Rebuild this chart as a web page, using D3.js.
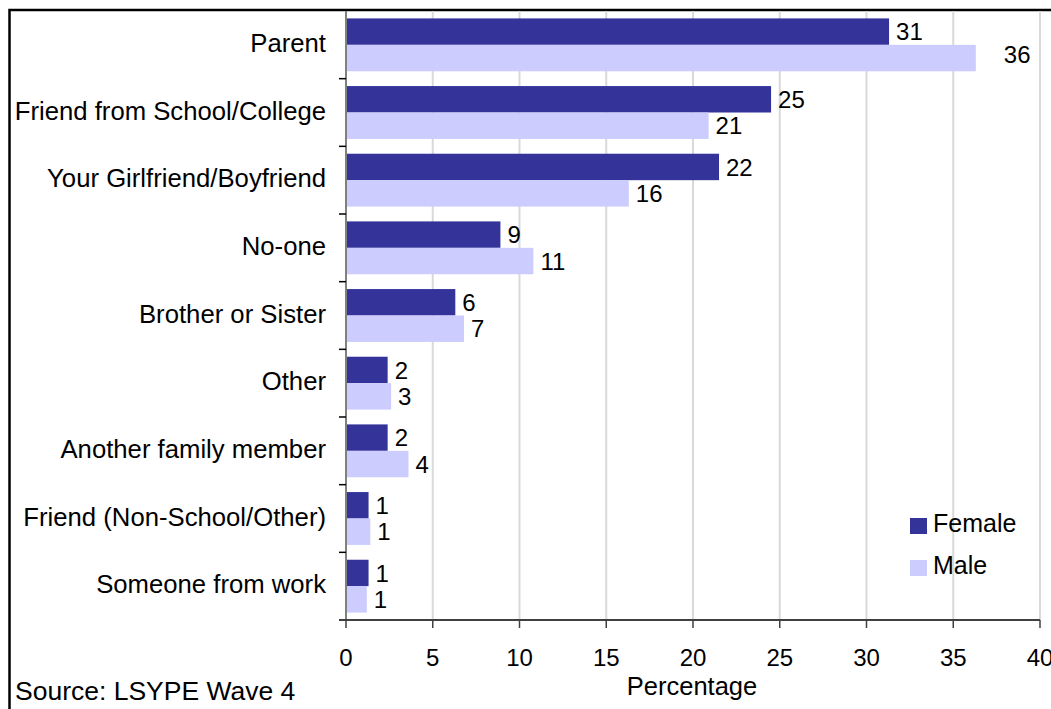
<!DOCTYPE html>
<html><head><meta charset="utf-8">
<script src="https://cdn.jsdelivr.net/npm/d3@7"></script>
<style>body{margin:0;background:#fff}svg{display:block}text{font-family:"Liberation Sans",Arial,sans-serif;fill:#000}</style>
</head><body><svg id="c" width="1051" height="709"></svg>
<script>
const categories = ["Parent","Friend from School/College","Your Girlfriend/Boyfriend","No-one","Brother or Sister","Other","Another family member","Friend (Non-School/Other)","Someone from work"];
const series = ["Female","Male"];
const female = [31.3, 24.5, 21.5, 8.9, 6.3, 2.4, 2.4, 1.3, 1.3];
const male   = [36.3, 20.9, 16.3, 10.8, 6.8, 2.6, 3.6, 1.4, 1.2];
const femaleLabels = ["31","25","22","9","6","2","2","1","1"];
const maleLabels   = ["36","21","16","11","7","3","4","1","1"];
const xTicks = [0,5,10,15,20,25,30,35,40];
const colors = {Female:"#333399", Male:"#CCCCFF"};

const svg = d3.select("#c");
const m = {left:346, right:1040, top:11, bottom:620};
const x = d3.scaleLinear().domain([0,40]).range([m.left, m.right]);
const y = d3.scaleBand().domain(categories).range([m.top, m.bottom]).padding(0);
const ys = d3.scaleBand().domain(series).range([0, y.bandwidth()]).paddingInner(0).paddingOuter(0.28);

// frame
svg.append("path").attr("d",`M9.5,709 V10 H1051`).attr("fill","none").attr("stroke","#000").attr("stroke-width",2.5);

// gridlines
svg.append("g").selectAll("line").data(xTicks.slice(1)).join("line")
  .attr("x1",d=>x(d)).attr("x2",d=>x(d)).attr("y1",m.top).attr("y2",m.bottom)
  .attr("stroke","#d9d9d9").attr("stroke-width",2);

const rows = categories.map((c,i)=>({c, vals:[{s:"Female",v:female[i],l:femaleLabels[i]},{s:"Male",v:male[i],l:maleLabels[i]}]}));
const maxV = d3.max(male.concat(female));
const g = svg.append("g").selectAll("g").data(rows).join("g").attr("transform",d=>`translate(0,${y(d.c)})`);
g.selectAll("rect").data(d=>d.vals).join("rect")
  .attr("x",x(0)).attr("y",d=>ys(d.s)).attr("width",d=>x(d.v)-x(0)).attr("height",ys.bandwidth())
  .attr("fill",d=>colors[d.s]);
g.selectAll("text").data(d=>d.vals).join("text")
  .attr("x",d=>x(d.v)+(d.v===maxV?28:7)).attr("y",d=>ys(d.s)+ys.bandwidth()/2)
  .attr("dy",d=>d.v===maxV?"0.2em":"0.36em").attr("font-size",24).text(d=>d.l);

// y axis
const ya = svg.append("g").attr("transform",`translate(${m.left},0)`);
ya.append("line").attr("x1",0).attr("x2",0).attr("y1",m.top).attr("y2",m.bottom).attr("stroke","#808080").attr("stroke-width",2);
ya.selectAll("line.t").data(categories.slice(1)).join("line").attr("class","t")
  .attr("x1",-7).attr("x2",0).attr("y1",d=>y(d)).attr("y2",d=>y(d)).attr("stroke","#000").attr("stroke-width",1.5);
ya.selectAll("text").data(categories).join("text")
  .attr("x",-20).attr("y",d=>y(d)+y.bandwidth()/2).attr("dy","0.28em").attr("text-anchor","end")
  .attr("font-size",25.7).text(d=>d);

// x axis
const xa = svg.append("g").attr("transform",`translate(0,${m.bottom})`);
xa.append("line").attr("x1",m.left-7).attr("x2",m.right).attr("stroke","#404040").attr("stroke-width",2);
xa.selectAll("line.t").data(xTicks).join("line").attr("class","t")
  .attr("x1",d=>x(d)).attr("x2",d=>x(d)).attr("y1",0).attr("y2",8).attr("stroke","#404040").attr("stroke-width",1.5);
xa.selectAll("text").data(xTicks).join("text")
  .attr("x",d=>x(d)).attr("y",46).attr("text-anchor","middle").attr("font-size",24).text(d=>d);
svg.append("text").attr("x",692).attr("y",695).attr("text-anchor","middle").attr("font-size",25.5).text("Percentage");
svg.append("text").attr("x",15).attr("y",700).attr("font-size",26.5).text("Source: LSYPE Wave 4");

// legend
const lg = svg.append("g").attr("transform","translate(910,518)");
const li = lg.selectAll("g").data(series).join("g").attr("transform",(d,i)=>`translate(0,${i*42})`);
li.append("rect").attr("width",17).attr("height",16).attr("fill",d=>colors[d]);
li.append("text").attr("x",23).attr("y",14).attr("font-size",25).text(d=>d);
</script></body></html>
